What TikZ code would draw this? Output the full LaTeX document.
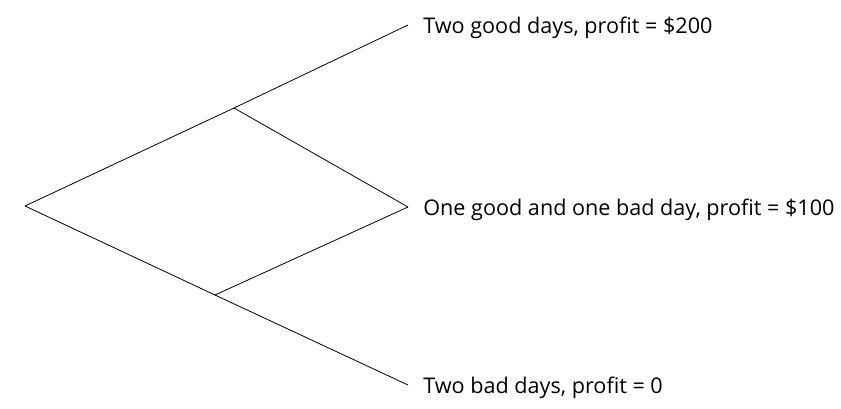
\documentclass[tikz,border=0pt]{standalone}
\usepackage{fontspec}
\setmainfont{Open Sans}
\begin{document}
\begin{tikzpicture}[x=1pt,y=-1pt,line width=0.8pt,
    leaf/.style={anchor=west,inner xsep=15pt,inner ysep=0pt,yshift=-3pt,font=\fontsize{21.6}{26}\selectfont}]
  \useasboundingbox (0,0) rectangle (841,409);
  \coordinate (r) at (25,206);
  \coordinate (u) at (234,108);
  \coordinate (d) at (215,295);
  \node[leaf] (uu) at (408,25) {Two good days, profit = \$200};
  \node[leaf] (ud) at (408,207) {One good and one bad day, profit = \$100};
  \node[leaf] (dd) at (408,385) {Two bad days, profit = 0};
  \draw (r) -- (u) -- ([yshift=3pt]uu.west);
  \draw (u) -- ([yshift=3pt]ud.west);
  \draw (r) -- (d) -- ([yshift=3pt]dd.west);
  \draw (d) -- ([yshift=3pt]ud.west);
\end{tikzpicture}
\end{document}
